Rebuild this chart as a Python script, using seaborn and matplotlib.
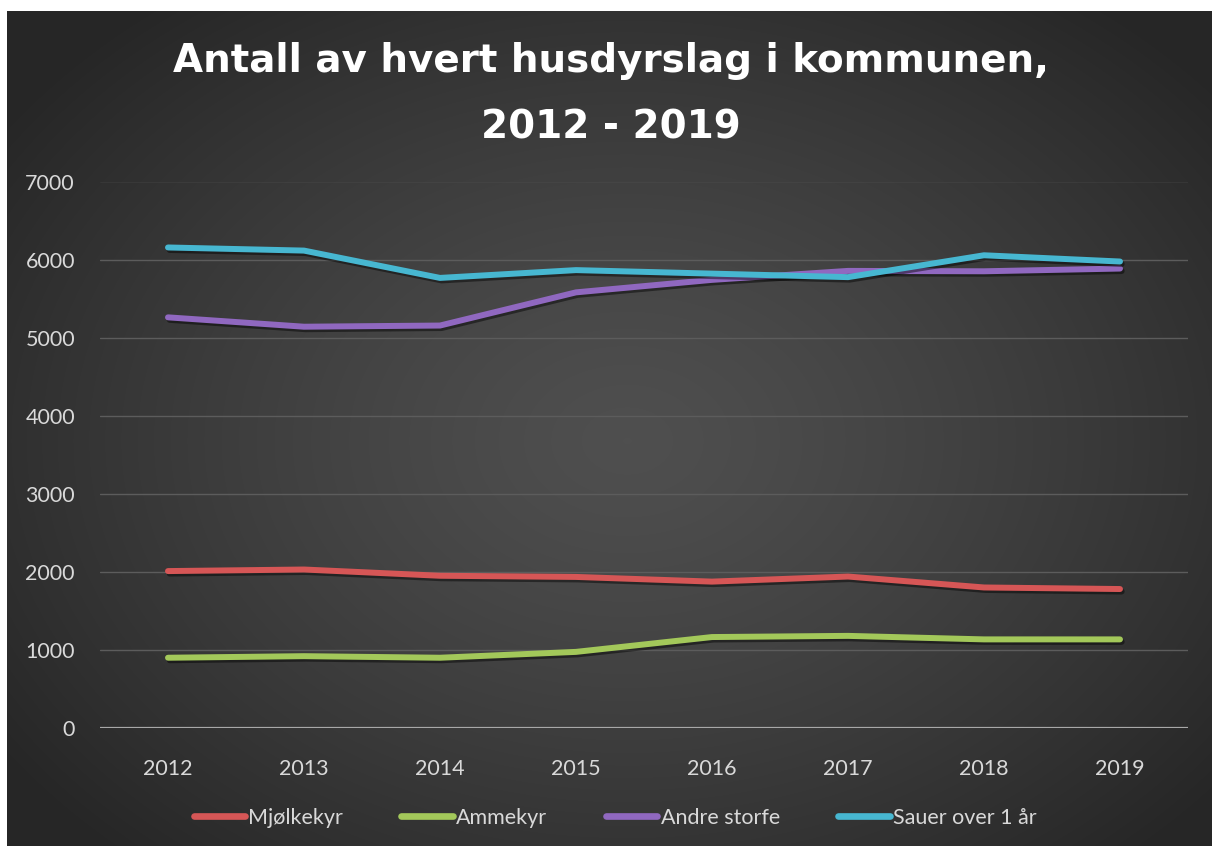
import numpy as np
import pandas as pd
import matplotlib
matplotlib.use("Agg")
import matplotlib.pyplot as plt
import matplotlib.patheffects as pe
from matplotlib.lines import Line2D
import seaborn as sns

years = [2012, 2013, 2014, 2015, 2016, 2017, 2018, 2019]
mjolkekyr = [2010, 2030, 1950, 1935, 1875, 1940, 1800, 1780]
ammekyr = [900, 920, 900, 975, 1165, 1180, 1135, 1135]
andre_storfe = [5260, 5140, 5155, 5580, 5740, 5855, 5850, 5885]
sauer = [6155, 6115, 5765, 5865, 5820, 5775, 6055, 5975]
series_names = ["Mjølkekyr", "Ammekyr", "Andre storfe", "Sauer over 1 år"]
colors = ["#d65656", "#a3c85a", "#9068c0", "#47b7d1"]
title = "Antall av hvert husdyrslag i kommunen,\n2012 - 2019"
y_ticks = [0, 1000, 2000, 3000, 4000, 5000, 6000, 7000]

rows = []
for name, vals in zip(series_names, [mjolkekyr, ammekyr, andre_storfe, sauer]):
    for yr, v in zip(years, vals):
        rows.append({"År": yr, "Antall": v, "Serie": name})
df = pd.DataFrame(rows)

sns.set_theme(style="dark")
plt.rcParams["font.family"] = ["Lato", "DejaVu Sans"]

W, H = 1212, 846
fig = plt.figure(figsize=(W / 100, H / 100), dpi=100, facecolor="white")

# background panel with radial gradient
bg = fig.add_axes([7 / W, 0, 1 - 7 / W, 1 - 11 / H])
bg.set_axis_off()
yy, xx = np.mgrid[0:835, 0:1205]
cx, cy = 620, 430
r = np.sqrt(((xx - cx) / 760.0) ** 2 + ((yy - cy) / 560.0) ** 2)
val = 0.31 - 0.16 * np.clip(r, 0, 1) ** 1.3
img = np.dstack([val, val, val])
bg.imshow(img, aspect="auto", extent=[0, 1, 0, 1], interpolation="bilinear")
bg.set_xlim(0, 1)
bg.set_ylim(0, 1)

ax = fig.add_axes([100 / W, (H - 728) / H, (1188 - 100) / W, (728 - 181.5) / H])
ax.patch.set_alpha(0)

sns.lineplot(data=df, x="År", y="Antall", hue="Serie", palette=colors,
             hue_order=series_names, linewidth=4.3, ax=ax, legend=False,
             sort=False)
for ln in ax.get_lines():
    ln.set_solid_capstyle("round")
    ln.set_solid_joinstyle("round")
    ln.set_path_effects([pe.SimpleLineShadow(offset=(1.2, -1.8), shadow_color="black", alpha=0.45),
                         pe.Normal()])
    ln.set_zorder(5)

ax.set_xlim(2011.5, 2019.5)
ax.set_ylim(0, 7000)
ax.set_xticks(years)
ax.set_xticklabels([str(y) for y in years])
ax.set_yticks(y_ticks)
ax.set_yticklabels([str(t) for t in y_ticks])
ax.grid(False)
for t in y_ticks[1:]:
    ax.axhline(t, color="#5c5c5c", linewidth=1.0, zorder=1)
ax.axhline(0, color="#a8a8a8", linewidth=1.6, zorder=2)
for s in ax.spines.values():
    s.set_visible(False)
ax.tick_params(axis="both", length=0, colors="#d9d9d9", labelsize=15.5)
ax.tick_params(axis="y", pad=18)
ax.tick_params(axis="x", pad=22)
ax.set_xlabel("")
ax.set_ylabel("")

fig.text(0.5 + 5 / W, 1 - 94 / H, title, ha="center", va="center", color="white",
         fontsize=28, fontweight="bold", family="DejaVu Sans", linespacing=1.95)

handles = [Line2D([0], [0], color=c, linewidth=4.8, solid_capstyle="round") for c in colors]
leg = fig.legend(handles, series_names, loc="center", bbox_to_anchor=(615 / W, 1 - 818 / H),
                 ncol=4, frameon=False, handlelength=2.4, handletextpad=0.15,
                 columnspacing=2.7, fontsize=15.5)
for t in leg.get_texts():
    t.set_color("#d9d9d9")

fig.savefig("out.png", dpi=100, facecolor="white")
